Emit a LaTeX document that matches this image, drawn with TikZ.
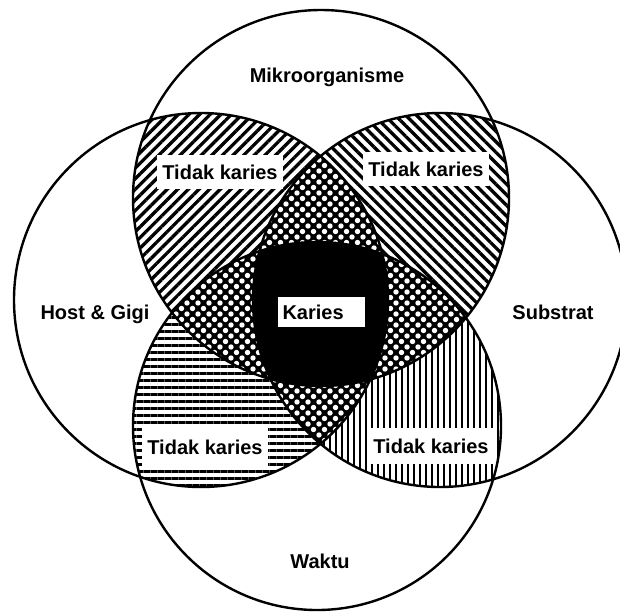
\documentclass[tikz,border=0pt]{standalone}
\usepackage{fontspec}
\setmainfont{Liberation Sans}
\usetikzlibrary{patterns.meta}
\newcommand\cirT{(321,198) circle [radius=188pt]}
\newcommand\cirB{(317,426) circle [radius=184pt]}
\newcommand\cirL{(201,300) circle [radius=187pt]}
\newcommand\cirR{(440,300) circle [radius=187pt]}
\begin{document}
\begin{tikzpicture}[x=1pt,y=-1pt,
  lbl/.style={font=\fontsize{20}{24}\selectfont\bfseries, inner sep=0pt},
  box/.style={lbl, fill=white, inner xsep=5pt, inner ysep=10pt},
  ring/.style={draw=black, line width=2.4pt},
  hatchNE/.style={pattern={Lines[angle=45,distance=7.5pt,line width=3.3pt]}},
  hatchNW/.style={pattern={Lines[angle=-45,distance=7.5pt,line width=3.3pt]}},
  hatchH/.style={pattern={Lines[angle=0,distance=7pt,line width=3pt]}},
  hatchV/.style={pattern={Lines[angle=90,distance=6pt,line width=2.8pt]}},
  dotsA/.style={pattern={Dots[radius=2.7pt,distance=11pt]}, pattern color=white},
  dotsB/.style={pattern={Dots[radius=2.7pt,distance=11pt,xshift=5.5pt,yshift=5.5pt]}, pattern color=white}]
\useasboundingbox (0,0) rectangle (620,611);
\clip (0,0) rectangle (620,611);
\fill[white] (0,0) rectangle (620,611);
% pairwise regions
\begin{scope}\clip \cirT; \fill[hatchNE] \cirL; \end{scope}
\begin{scope}\clip \cirT; \fill[hatchNW] \cirR; \end{scope}
\begin{scope}\clip \cirB; \fill[hatchH] \cirL; \end{scope}
\begin{scope}\clip \cirB; \fill[hatchV] \cirR; \end{scope}
% triple regions
\begin{scope}\clip \cirT; \clip \cirL; \fill[black] \cirB; \fill[dotsA] \cirB; \fill[dotsB] \cirB; \end{scope}
\begin{scope}\clip \cirT; \clip \cirR; \fill[black] \cirB; \fill[dotsA] \cirB; \fill[dotsB] \cirB; \end{scope}
\begin{scope}\clip \cirT; \clip \cirL; \fill[black] \cirR; \fill[dotsA] \cirR; \fill[dotsB] \cirR; \end{scope}
\begin{scope}\clip \cirB; \clip \cirL; \fill[black] \cirR; \fill[dotsA] \cirR; \fill[dotsB] \cirR; \end{scope}
% four-way region
\begin{scope}\clip \cirT; \clip \cirL; \clip \cirR; \fill[black] \cirB; \end{scope}
% circles
\draw[ring] \cirT;
\draw[ring] \cirB;
\draw[ring] \cirL;
\draw[ring] \cirR;
% labels
\node[lbl] (mikro) at (327,77) {Mikroorganisme};
\node[lbl] (host) at (95,314) {Host \& Gigi};
\node[lbl] (sub) at (553,312) {Substrat};
\node[lbl] (waktu) at (320,561) {Waktu};
\node[box] (tk1) at (220,172) {Tidak karies};
\node[box] (tk2) at (426,169) {Tidak karies};
\node[box, inner ysep=12pt] (tk3) at (205,447) {Tidak karies};
\node[box, inner ysep=11pt] (tk4) at (431,446) {Tidak karies};
\node[box, text width=77pt, align=left, inner ysep=8pt] (karies) at (321,312) {Karies};
\end{tikzpicture}
\end{document}
